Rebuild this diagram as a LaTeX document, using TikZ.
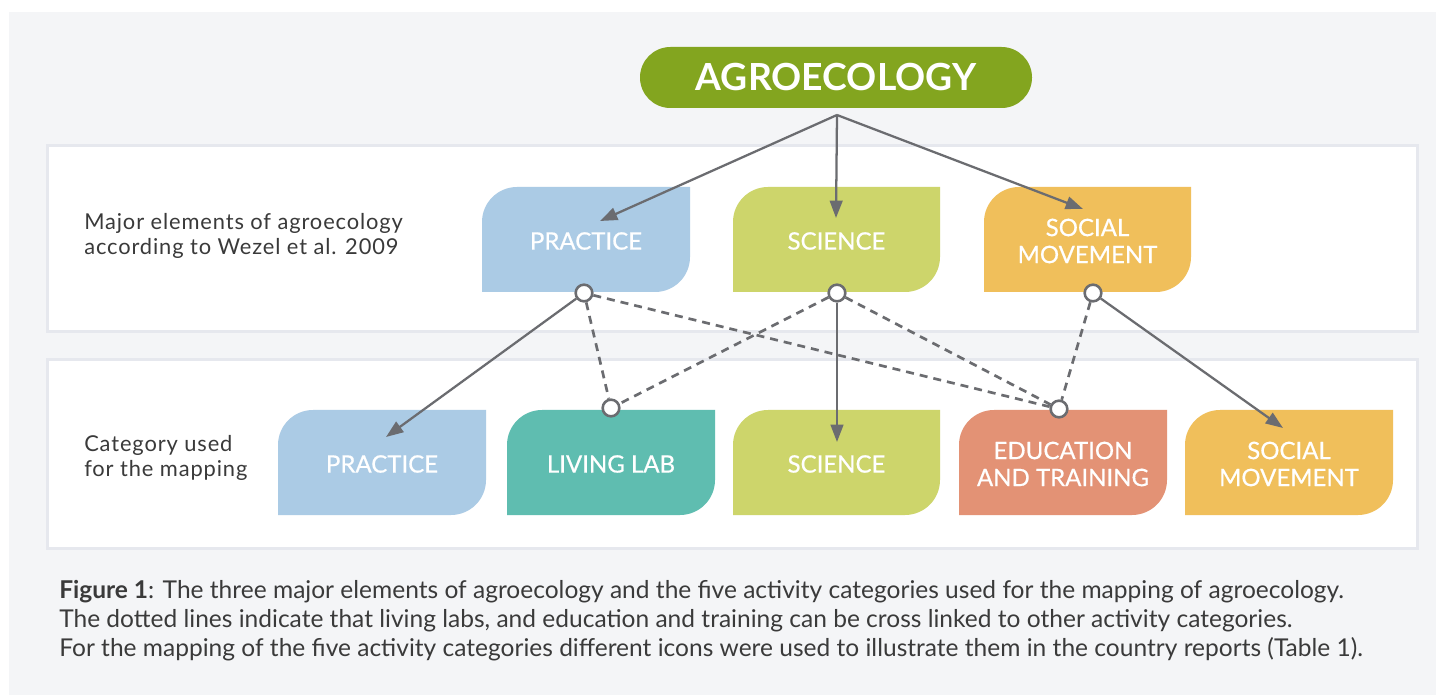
\documentclass[tikz,border=0pt]{standalone}
\usepackage{fontspec}
\setmainfont{Lato}
\usetikzlibrary{arrows.meta}
\definecolor{bggray}{HTML}{F4F5F7}
\definecolor{panelline}{HTML}{E6E8EE}
\definecolor{agro}{HTML}{83A51F}
\definecolor{cpractice}{HTML}{ABCBE5}
\definecolor{cscience}{HTML}{CDD56B}
\definecolor{csocial}{HTML}{F0BF5B}
\definecolor{cliving}{HTML}{5FBDB0}
\definecolor{ceducation}{HTML}{E39275}
\definecolor{linegray}{HTML}{6B6C70}
\definecolor{textgray}{HTML}{3A3A3A}
\newcommand\catbox[5]{%
\fill[#5] (#1,#4) -- (#1,#2+35) .. controls (#1,#2+15.7) and (#1+15.7,#2) .. (#1+35,#2) -- (#3,#2) -- (#3,#4-35) .. controls (#3,#4-15.7) and (#3-15.7,#4) .. (#3-35,#4) -- cycle;}
\begin{document}
\begin{tikzpicture}[x=0.75pt,y=-0.75pt,
  conn/.style={draw=linegray, line width=1.7pt},
  arr/.style={conn,-{Triangle[length=13pt,width=9.5pt]}},
  dashconn/.style={conn,line width=2pt,dash pattern=on 6pt off 4.5pt},
  dot/.style={circle,draw=linegray,fill=white,line width=1.9pt,minimum size=12.5pt,inner sep=0pt},
  lbl/.style={text=white,font=\addfontfeatures{FakeBold=0.6}\fontsize{18}{20.25}\selectfont,align=center},
  side/.style={text=textgray,font=\addfontfeatures{LetterSpace=4}\fontsize{16.4}{19}\selectfont,align=left,anchor=west,inner sep=0pt},
  capline/.style={text=textgray,font=\fontsize{18.4}{22}\selectfont,anchor=base west,inner sep=0pt},
  panel/.style={fill=white,draw=panelline,line width=2.25pt}
]
\useasboundingbox (0,0) rectangle (1436,695);
\fill[white] (0,0) rectangle (1436,695);
\fill[bggray] (9,12) rectangle (1436,695);
\draw[panel] (47,146) rectangle (1417,332);
\draw[panel] (47,360) rectangle (1417,548);

% top pill
\node[fill=agro,rounded corners=22.8pt,minimum width=294pt,minimum height=45.75pt,inner sep=0pt,
      text=white,font=\bfseries\fontsize{28}{30}\selectfont] (agro) at (836,77.5) {AGROECOLOGY};

% top row boxes
\catbox{482}{187}{690}{292}{cpractice}
\catbox{733}{187}{940}{292}{cscience}
\catbox{984}{187}{1191}{292}{csocial}
\node[lbl] (tpractice) at (586,241) {PRACTICE};
\node[lbl] (tscience) at (836.5,241) {SCIENCE};
\node[lbl] (tsocial) at (1087.5,241) {SOCIAL\\MOVEMENT};

% bottom row boxes
\catbox{278}{410}{486}{515}{cpractice}
\catbox{507}{410}{715}{515}{cliving}
\catbox{733}{410}{940}{515}{cscience}
\catbox{959}{410}{1167}{515}{ceducation}
\catbox{1185}{410}{1393}{515}{csocial}
\node[lbl] (bpractice) at (382,464) {PRACTICE};
\node[lbl] (bliving) at (611,464) {LIVING LAB};
\node[lbl] (bscience) at (836.5,464) {SCIENCE};
\node[lbl] (beducation) at (1063,464) {EDUCATION\\AND TRAINING};
\node[lbl] (bsocial) at (1289,464) {SOCIAL\\MOVEMENT};

% side labels
\node[side] (lab1) at (84,236) {Major elements of agroecology\\according to Wezel et al. 2009};
\node[side] (lab2) at (84,458) {Category used\\for the mapping};

% coordinates
\coordinate (fan) at (837,115);
\coordinate (tp1) at (600,221);
\coordinate (ts1) at (836,218);
\coordinate (tm1) at (1083,209);
\coordinate (tp2) at (386,437);
\coordinate (ts2) at (837,442);
\coordinate (tm2) at (1283,428);

% connection dots
\node[dot] (cp) at (584,293) {};
\node[dot] (cs) at (837,293) {};
\node[dot] (cm) at (1093,293) {};
\node[dot] (cl) at (611,408) {};
\node[dot] (ce) at (1059,409) {};

% arrows
\draw[arr] (fan) -- (tp1);
\draw[arr] (fan) -- (ts1);
\draw[arr] (fan) -- (tm1);
\draw[arr] (cp) -- (tp2);
\draw[arr] (cs) -- (ts2);
\draw[arr] (cm) -- (tm2);
% dashed links
\draw[dashconn] (cp) -- (cl);
\draw[dashconn] (cp) -- (ce);
\draw[dashconn] (cs) -- (cl);
\draw[dashconn] (cs) -- (ce);
\draw[dashconn] (cm) -- (ce);

% caption
\node[capline] (cap1) at (59,598) {\textbf{Figure 1}: The three major elements of agroecology and the five activity categories used for the mapping of agroecology.};
\node[capline] (cap2) at (59,627) {The dotted lines indicate that living labs, and education and training can be cross linked to other activity categories.};
\node[capline] (cap3) at (59,656) {For the mapping of the five activity categories different icons were used to illustrate them in the country reports (Table 1).};
\end{tikzpicture}
\end{document}
